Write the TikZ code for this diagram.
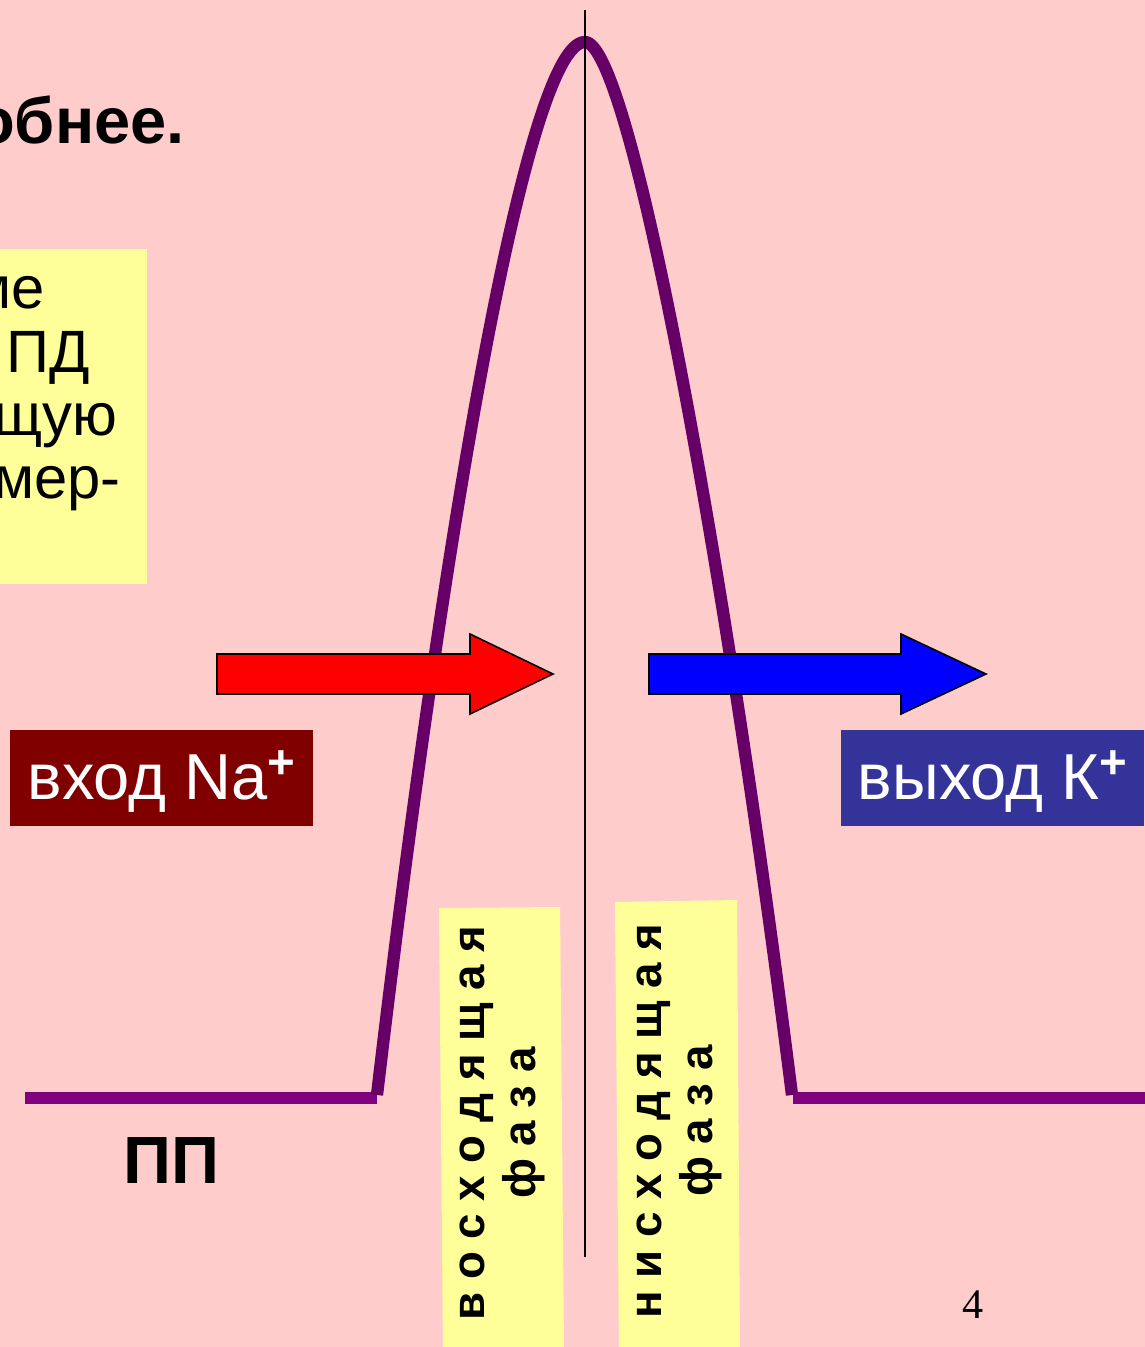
\documentclass[tikz,border=0pt]{standalone}
\usepackage{fontspec}
\setmainfont{Liberation Sans}
\newfontfamily\pagefont{Liberation Serif}
\definecolor{bgpink}{HTML}{FFCCCC}
\definecolor{notey}{HTML}{FFFF99}
\definecolor{nabox}{HTML}{800000}
\definecolor{kbox}{HTML}{333399}
\definecolor{curvec}{HTML}{660066}
\definecolor{basec}{HTML}{800080}
\newcommand{\ionplus}{\raisebox{12pt}{\fontsize{27pt}{27pt}\selectfont\bfseries +}}
\begin{document}
\begin{tikzpicture}[x=0.02cm,y=-0.02cm,
  notetext/.style={anchor=base east,inner sep=0pt,font=\fontsize{34pt}{40pt}\selectfont},
  ionbox/.style={inner sep=0pt,minimum width=6.06cm,minimum height=1.92cm,text height=25pt,text depth=0pt,text=white,font=\fontsize{37pt}{42pt}\selectfont},
  phasetext/.style={rotate=90,align=center,inner sep=0pt,font=\bfseries\fontsize{26pt}{29pt}\selectfont},
  arrowshape/.style={draw=black,line width=0.9pt,line join=miter},
  apcurve/.style={draw=curvec,line width=7pt},
  restline/.style={draw=basec,line width=7pt}
]
\useasboundingbox (0,0) rectangle (1145,1347);
\clip (0,0) rectangle (1145,1347);
\fill[bgpink] (0,0) rectangle (1145,1347);

% title fragment
\node[anchor=base east,inner sep=0pt,font=\bfseries\fontsize{37pt}{42pt}\selectfont] (title) at (185,143) {Подробнее.};

% left yellow note
\fill[notey] (-10,249) rectangle (147,584);
\node[notetext] (n1) at (45,308) {ме};
\node[notetext] (n2) at (90,372) {ПД};
\node[notetext] (n3) at (118,435) {щую};
\node[notetext] (n4) at (121,498) {мер-};

% resting potential lines
\draw[restline] (25,1098) -- (377,1098);
\draw[restline] (793,1098) -- (1150,1098);

% action potential curve
\draw[apcurve] (377,1095) .. controls (440,560) and (525,42) .. (585,42)
               .. controls (630,42) and (725,560) .. (792,1095);

% vertical line
\coordinate (vtop) at (585,10);
\coordinate (vbot) at (585,1257);
\draw[line width=1.2pt] (vtop) -- (vbot);

% arrows
\filldraw[arrowshape,fill=red] (217,654) -- (470,654) -- (470,634) -- (553,674) -- (470,714) -- (470,694) -- (217,694) -- cycle;
\filldraw[arrowshape,fill=blue] (649,654) -- (901,654) -- (901,634) -- (986,674) -- (901,714) -- (901,694) -- (649,694) -- cycle;

% ion labels
\node[ionbox,fill=nabox] (na) at (161.5,778) {вход Na\ionplus};
\node[ionbox,fill=kbox] (k) at (992.5,778) {выход К\ionplus};

% PP label
\node[anchor=base west,inner sep=0pt,font=\bfseries\fontsize{38pt}{42pt}\selectfont] (pp) at (123,1183) {ПП};

% phase boxes
\fill[notey] (439,908) -- (560,907) -- (564,1350) -- (443,1350) -- cycle;
\fill[notey] (615,902) -- (737,900) -- (740,1350) -- (619,1350) -- cycle;
\node[phasetext] (rise) at (502,1123) {в о с х о д я щ а я\\ф а з а};
\node[phasetext] (fall) at (679,1121) {н и с х о д я щ а я\\ф а з а};

% page number
\node[inner sep=0pt,font=\pagefont\fontsize{24pt}{28pt}\selectfont] (pg) at (973,1305) {4};
\end{tikzpicture}
\end{document}
